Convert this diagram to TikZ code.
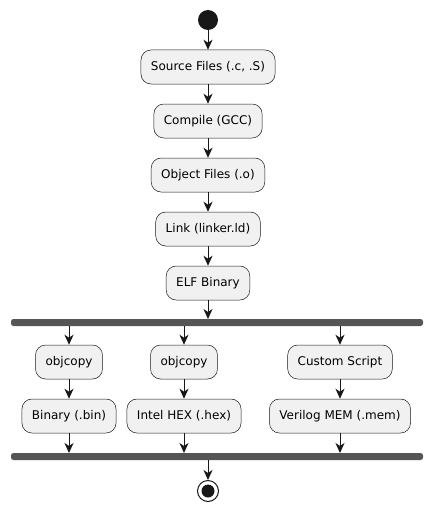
\documentclass[tikz,border=0pt]{standalone}
\usepackage{fontspec}
\setmainfont{DejaVu Sans}
\usetikzlibrary{arrows.meta}
\definecolor{lineC}{HTML}{181818}
\definecolor{fillC}{HTML}{F1F1F1}
\definecolor{barC}{HTML}{555555}
\begin{document}
\begin{tikzpicture}[x=1pt,y=-1pt,
  act/.style={draw=lineC,fill=fillC,line width=0.5pt,rounded corners=10pt,
    minimum height=34pt,inner xsep=10pt,font=\fontsize{12}{14}\selectfont,text=black},
  flow/.style={draw=lineC,line width=1pt,-{Stealth[length=10pt,width=9pt,inset=3pt]}},
  bar/.style={fill=barC,rounded corners=2.5pt}]
\useasboundingbox (0,0) rectangle (433,511);
% start
\node[circle,fill=lineC,minimum size=20pt,inner sep=0pt] (start) at (208,20) {};
\node[act] (src) at (208,67) {Source Files (.c, .S)};
\node[act] (cc) at (208,121) {Compile (GCC)};
\node[act] (obj) at (208,175) {Object Files (.o)};
\node[act] (ld) at (208,229) {Link (linker.ld)};
\node[act] (elf) at (208,283) {ELF Binary};
% fork bar
\path[bar] (11,319) rectangle (423,326);
\coordinate (forkA) at (208,319);
\coordinate (f1) at (69,326);
\coordinate (f2) at (184,326);
\coordinate (f3) at (340,326);
% branches
\node[act] (oc1) at (69,362) {objcopy};
\node[act] (bin) at (69,416) {Binary (.bin)};
\node[act] (oc2) at (184,362) {objcopy};
\node[act] (hex) at (184,416) {Intel HEX (.hex)};
\node[act] (cs) at (340,362) {Custom Script};
\node[act] (mem) at (340,416) {Verilog MEM (.mem)};
% join bar
\path[bar] (11,453) rectangle (423,460);
\coordinate (j1) at (69,453);
\coordinate (j2) at (184,453);
\coordinate (j3) at (340,453);
\coordinate (jout) at (208,460);
% end
\node[circle,draw=lineC,line width=1pt,fill=white,minimum size=21pt,inner sep=0pt] (stop) at (208,491) {};
\fill[lineC] (stop.center) circle (6.5pt);
% connectors
\draw[flow] (start) -- (src);
\draw[flow] (src) -- (cc);
\draw[flow] (cc) -- (obj);
\draw[flow] (obj) -- (ld);
\draw[flow] (ld) -- (elf);
\draw[flow] (elf) -- (forkA);
\draw[flow] (f1) -- (oc1);
\draw[flow] (f2) -- (oc2);
\draw[flow] (f3) -- (cs);
\draw[flow] (oc1) -- (bin);
\draw[flow] (oc2) -- (hex);
\draw[flow] (cs) -- (mem);
\draw[flow] (bin) -- (j1);
\draw[flow] (hex) -- (j2);
\draw[flow] (mem) -- (j3);
\draw[flow] (jout) -- (stop);
\end{tikzpicture}
\end{document}
